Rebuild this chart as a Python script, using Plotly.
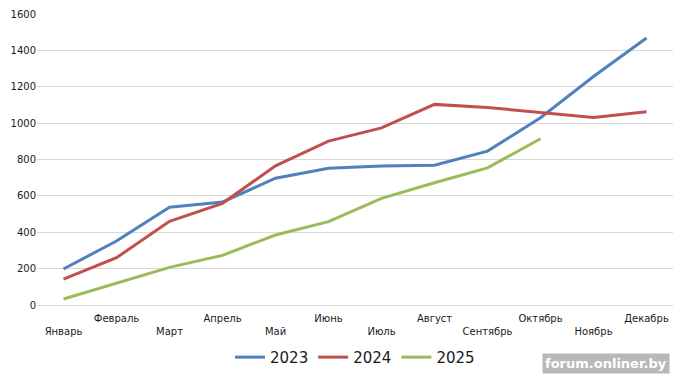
import plotly.graph_objects as go

months = ["Январь", "Февраль", "Март", "Апрель", "Май", "Июнь",
          "Июль", "Август", "Сентябрь", "Октябрь", "Ноябрь", "Декабрь"]
y2023 = [198, 352, 538, 566, 697, 752, 764, 769, 846, 1030, 1256, 1468]
y2024 = [142, 260, 460, 559, 765, 901, 974, 1103, 1086, 1057, 1031, 1062]
y2025 = [33, 119, 207, 273, 385, 458, 586, 672, 754, 914]
yticks = [0, 200, 400, 600, 800, 1000, 1200, 1400, 1600]

series = [("2023", y2023, "#4F81BD"), ("2024", y2024, "#C0504D"), ("2025", y2025, "#9BBB59")]

fig = go.Figure()
for name, vals, color in series:
    fig.add_trace(go.Scatter(x=months[:len(vals)], y=vals, name=name, mode="lines",
                             line=dict(color=color, width=3)))

# staggered tick labels like Excel
ticktext = [m if i % 2 == 1 else "<br>" + m for i, m in enumerate(months)]

fig.update_layout(
    width=684, height=384,
    margin=dict(l=37, r=11, t=14, b=79, autoexpand=False),
    paper_bgcolor="white", plot_bgcolor="white",
    font=dict(family="DejaVu Sans", size=10, color="#1a1a1a"),
    showlegend=True,
    legend=dict(orientation="h", x=0.5, xanchor="center", y=-0.18, yanchor="middle",
                font=dict(size=15, color="#1a1a1a"), itemwidth=30),
    xaxis=dict(type="category", categoryorder="array", categoryarray=months,
               tickmode="array", tickvals=months, ticktext=ticktext,
               range=[-0.5, 11.5], showgrid=False, showline=False, ticks="",
               tickfont=dict(size=10), automargin=False, ticklabelstandoff=6),
    yaxis=dict(range=[0, 1600], tickmode="array", tickvals=yticks,
               showgrid=True, gridcolor="#d9d9d9", gridwidth=1,
               zeroline=True, zerolinecolor="#d9d9d9", zerolinewidth=1,
               showline=False, ticks="", tickfont=dict(size=10), automargin=False),
    annotations=[dict(text="<b>forum.onliner.by</b>", xref="paper", yref="paper",
                      x=0.995, y=-0.2, xanchor="right", yanchor="middle", showarrow=False,
                      font=dict(size=13, color="white", family="DejaVu Sans"),
                      bgcolor="rgba(160,160,160,0.75)", borderpad=2)],
)

fig.write_html("out.html", config={"displayModeBar": False},
               post_script="document.body.style.margin='0';document.body.style.overflow='hidden';")
